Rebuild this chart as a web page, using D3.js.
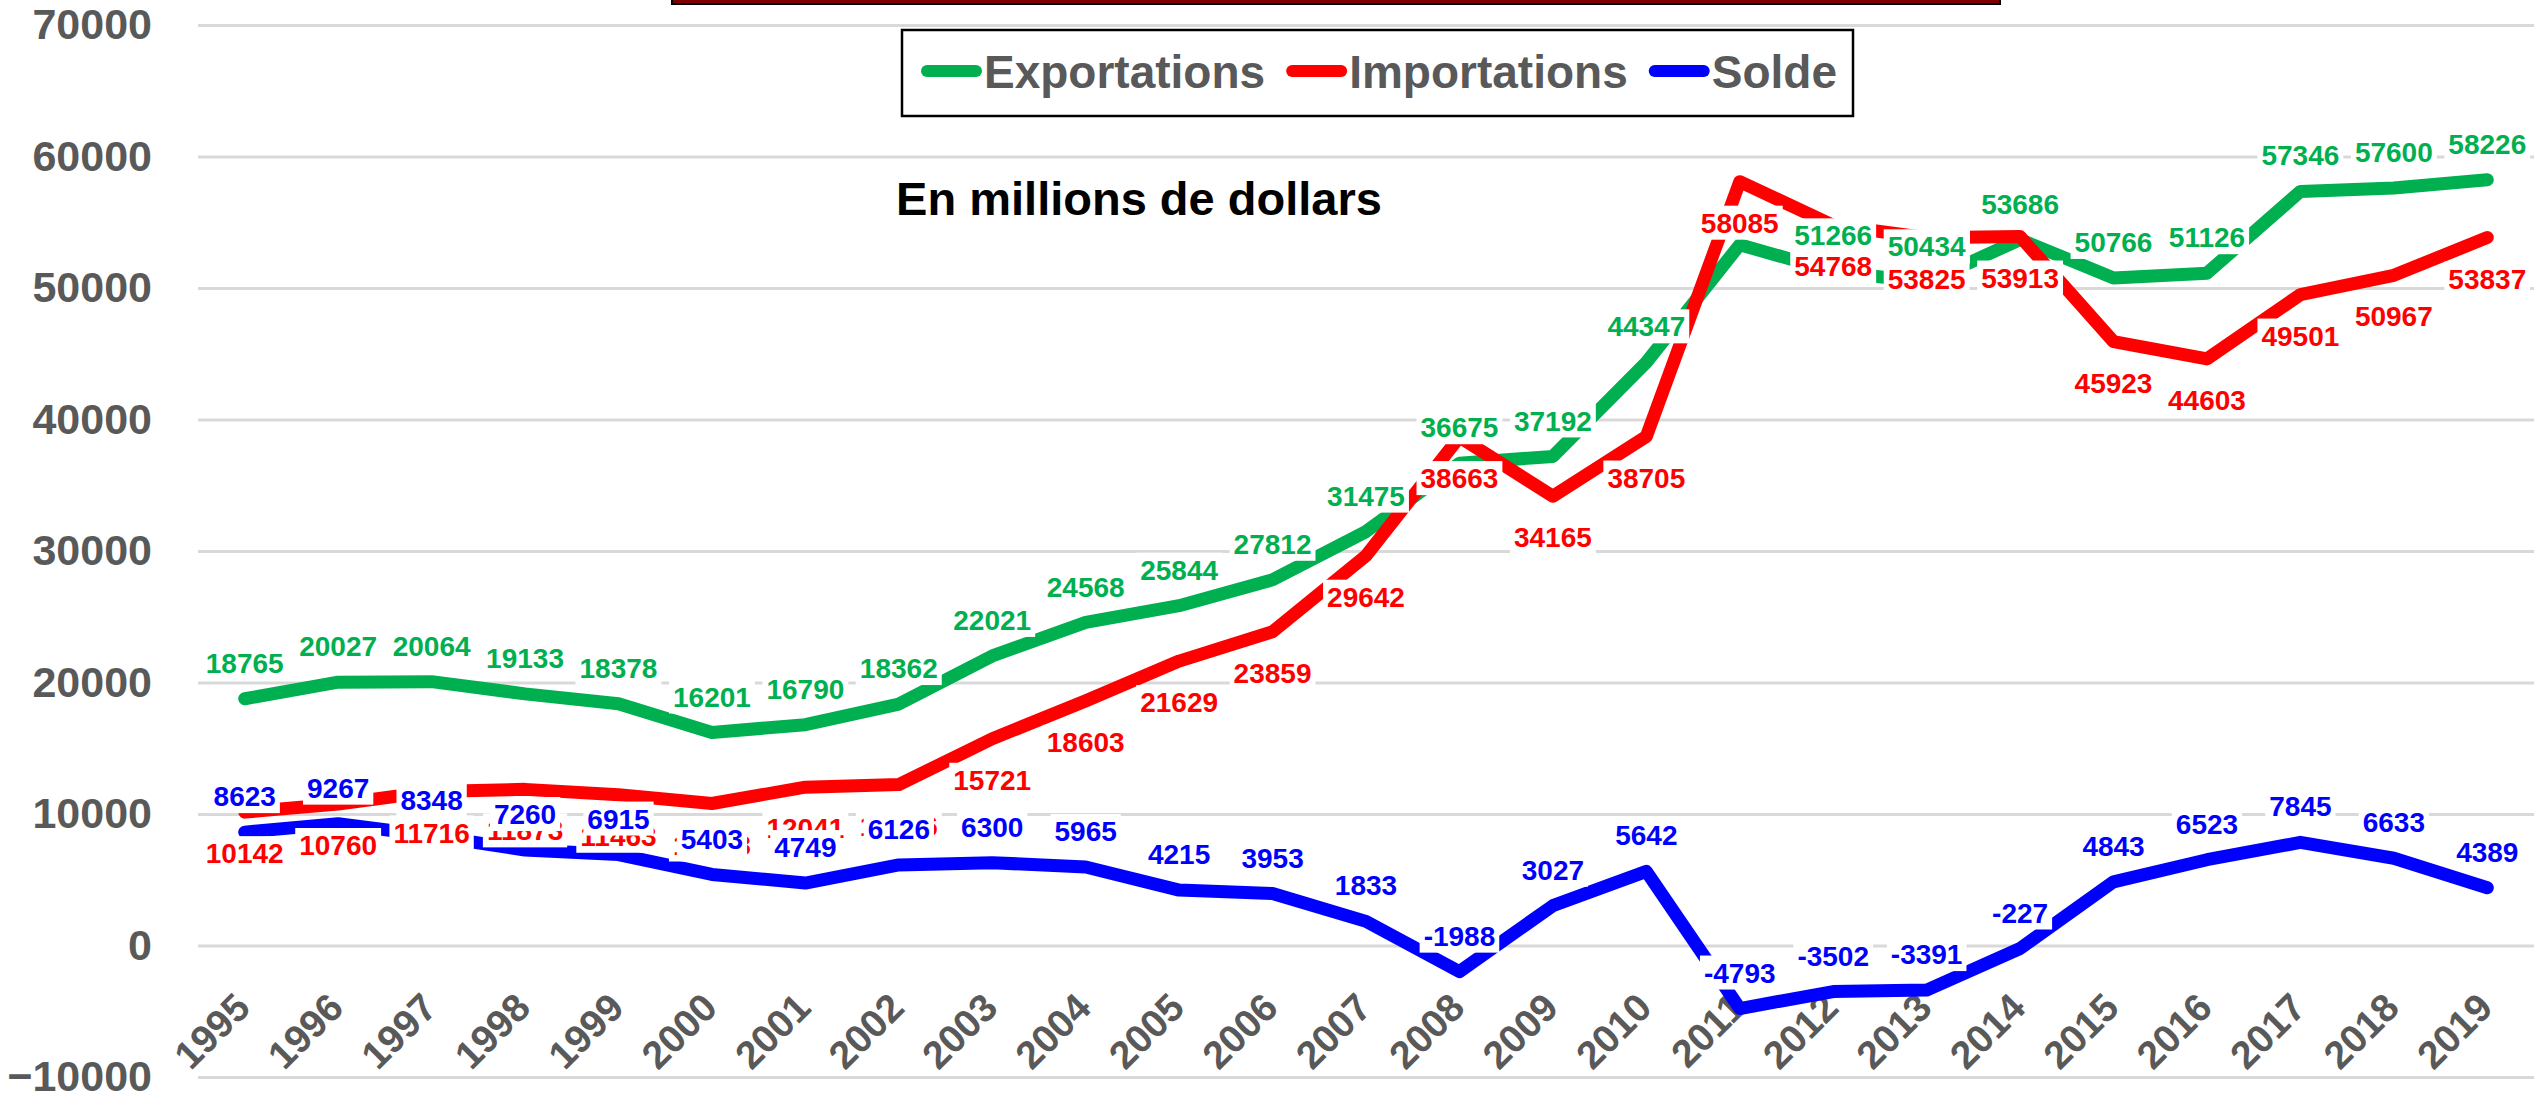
<!DOCTYPE html>
<html>
<head>
<meta charset="utf-8">
<script src="https://cdn.jsdelivr.net/npm/d3@7"></script>
<style>
body { margin: 0; background: #fff; }
text { font-family: "Liberation Sans", Arial, sans-serif; font-weight: bold; }
</style>
</head>
<body>
<script>
// values in millions of dollars
var years = [1995, 1996, 1997, 1998, 1999, 2000, 2001, 2002, 2003, 2004, 2005, 2006, 2007,
             2008, 2009, 2010, 2011, 2012, 2013, 2014, 2015, 2016, 2017, 2018, 2019];
var exportations = [18765, 20027, 20064, 19133, 18378, 16201, 16790, 18362, 22021, 24568, 25844, 27812, 31475,
                    36675, 37192, 44347, 53292, 51266, 50434, 53686, 50766, 51126, 57346, 57600, 58226];
var importations = [10142, 10760, 11716, 11873, 11463, 10798, 12041, 12236, 15721, 18603, 21629, 23859, 29642,
                    38663, 34165, 38705, 58085, 54768, 53825, 53913, 45923, 44603, 49501, 50967, 53837];
var solde = [8623, 9267, 8348, 7260, 6915, 5403, 4749, 6126, 6300, 5965, 4215, 3953, 1833,
             -1988, 3027, 5642, -4793, -3502, -3391, -227, 4843, 6523, 7845, 6633, 4389];
var yTicks = [-10000, 0, 10000, 20000, 30000, 40000, 50000, 60000, 70000];
var subtitle = "En millions de dollars";

var W = 2534, H = 1096;
var margin = {top: 25, right: 0, bottom: 19, left: 198};

var series = [
  {name: "Exportations", values: exportations, color: "#00B050", pos: "above", skip: [2011]},
  {name: "Importations", values: importations, color: "#FF0000", pos: "below", skip: []},
  {name: "Solde", values: solde, color: "#0000FF", pos: "above", skip: []}
];

var svg = d3.select("body").append("svg")
    .attr("width", W)
    .attr("height", H);

var x = d3.scalePoint()
    .domain(years)
    .range([margin.left, W - margin.right])
    .padding(0.5);

var y = d3.scaleLinear()
    .domain([-10000, 70000])
    .range([H - margin.bottom, margin.top]);

// cut-off title frame at the very top
svg.append("rect")
    .attr("x", 672).attr("y", -20)
    .attr("width", 1328).attr("height", 24)
    .attr("fill", "#7f0000")
    .attr("stroke", "#000")
    .attr("stroke-width", 2);

// gridlines + y labels
var yAxis = d3.axisLeft(y)
    .tickValues(yTicks)
    .tickSize(-(W - margin.left - margin.right))
    .tickPadding(46)
    .tickFormat(d3.format("d"));

svg.append("g")
    .attr("class", "y axis")
    .attr("transform", "translate(" + margin.left + ",0)")
    .call(yAxis)
    .call(function(g) {
      g.select(".domain").remove();
      g.selectAll("line").attr("stroke", "#d9d9d9").attr("stroke-width", 3);
      g.selectAll("text").attr("fill", "#595959").style("font-size", "43px");
    });

// year labels
var xAxis = d3.axisBottom(x).tickSize(0).tickPadding(0);
svg.append("g")
    .attr("class", "x axis")
    .attr("transform", "translate(0,1010)")
    .call(xAxis)
    .call(function(g) {
      g.select(".domain").remove();
      g.selectAll("text")
          .attr("fill", "#595959")
          .style("font-size", "39px")
          .attr("text-anchor", "end")
          .attr("dy", 0)
          .attr("y", 0)
          .attr("transform", "translate(7,0) rotate(-45)");
    });

// lines
var line = d3.line()
    .x(function(d, i) { return x(years[i]); })
    .y(function(d) { return y(d); });

series.forEach(function(s) {
  svg.append("path")
      .datum(s.values)
      .attr("fill", "none")
      .attr("stroke", s.color)
      .attr("stroke-width", 13)
      .attr("stroke-linecap", "round")
      .attr("stroke-linejoin", "round")
      .attr("d", line);
});

// data labels with white boxes
series.forEach(function(s) {
  var g = svg.append("g").attr("class", "labels");
  s.values.forEach(function(v, i) {
    if (s.skip.indexOf(years[i]) >= 0) return;
    var cy = y(v) + (s.pos === "above" ? -36 : 41);
    var lg = g.append("g").attr("transform", "translate(" + x(years[i]) + "," + cy + ")");
    var r = lg.append("rect").attr("fill", "#fff");
    var t = lg.append("text")
        .attr("text-anchor", "middle")
        .attr("dy", "0.36em")
        .attr("fill", s.color)
        .style("font-size", "28px")
        .text(v);
    var bb = t.node().getBBox();
    r.attr("x", bb.x - 4).attr("y", -17)
     .attr("width", bb.width + 8).attr("height", 34);
  });
});

// subtitle
svg.append("text")
    .attr("x", 1139).attr("y", 199)
    .attr("dy", "0.35em")
    .attr("text-anchor", "middle")
    .attr("fill", "#000")
    .style("font-size", "47px")
    .text(subtitle);

// legend
var legend = svg.append("g").attr("class", "legend");
legend.append("rect")
    .attr("x", 902).attr("y", 30)
    .attr("width", 951).attr("height", 86)
    .attr("fill", "#fff")
    .attr("stroke", "#000")
    .attr("stroke-width", 2.5);

var lx = 921;
series.forEach(function(s) {
  var item = legend.append("g").attr("transform", "translate(" + lx + ",71)");
  item.append("line")
      .attr("x1", 6).attr("x2", 55)
      .attr("stroke", s.color)
      .attr("stroke-width", 12)
      .attr("stroke-linecap", "round");
  var t = item.append("text")
      .attr("x", 63)
      .attr("dy", "0.36em")
      .attr("fill", "#595959")
      .style("font-size", "46px")
      .text(s.name);
  lx += 63 + t.node().getComputedTextLength() + 21;
});
</script>
</body>
</html>
